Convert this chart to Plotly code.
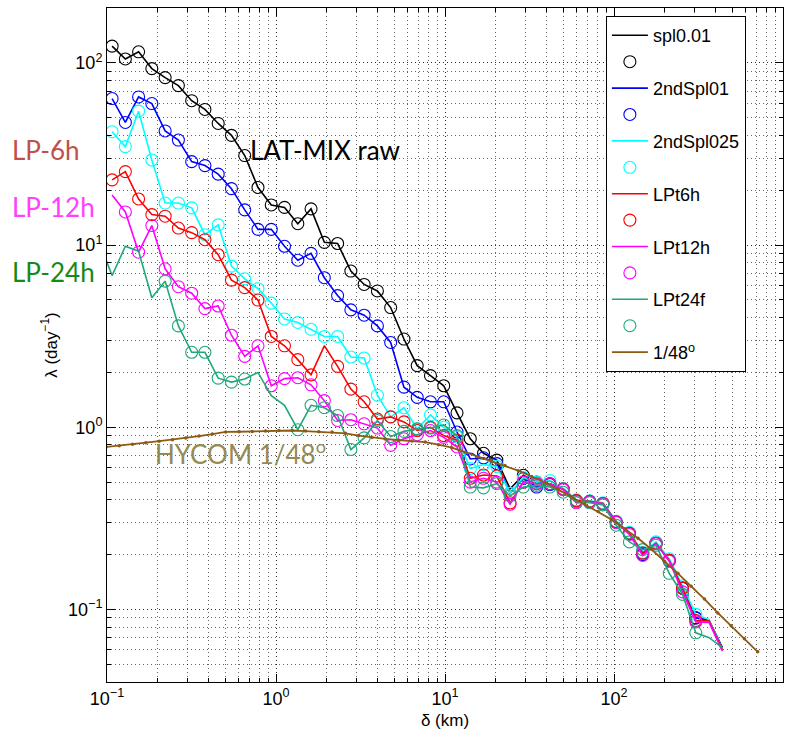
import plotly.graph_objects as go

# separation scale delta (km) shared by the LAT-MIX curves
delta_km = [0.0894, 0.1072, 0.1284, 0.1538, 0.1842, 0.2208, 0.2645, 0.3170, 0.3797, 0.4550,
            0.5451, 0.6531, 0.7824, 0.9376, 1.123, 1.346, 1.612, 1.932, 2.315, 2.773,
            3.323, 3.981, 4.770, 5.715, 6.848, 8.204, 9.829, 11.78, 14.11, 16.90,
            20.26, 24.27, 29.08, 34.83, 41.73, 50.00, 59.91, 71.78, 86.00, 103.0,
            123.4, 147.9, 177.2, 212.3, 254.4, 304.8, 365.2, 437.5]

spl001 = [None, 123.5, 105, 115, 93, 83, 75, 62, 55.5, 46.5, 40, 31, 20.7, 16.6, 16.1, 13.1,
          15.8, 10.35, 10.2, 7.2, 6.08, 5.6, 4.54, 3.05, 2.18, 1.92, 1.69, 1.2, 0.865, 0.72,
          0.66, 0.46, 0.545, 0.50, 0.49, 0.46, 0.396, 0.392, 0.382, 0.303, 0.262, 0.204,
          0.231, 0.186, 0.131, 0.090, 0.087, 0.0615]
spl2nd01 = [None, 63.7, 47.1, 65, 59.8, 42.3, 37.7, 28.7, 27.3, 24.5, 20.4, 15.6, 12.2, 12.2,
            9.85, 8.26, 9.0, 6.62, 5.28, 4.41, 4.12, 3.60, 2.92, 1.66, 1.46, 1.38, 1.38, 0.942,
            0.67, 0.68, 0.632, 0.434, 0.524, 0.47, 0.485, 0.458, 0.396, 0.392, 0.382, 0.303,
            0.262, 0.20, 0.231, 0.186, 0.131, 0.090, 0.087, 0.0615]
spl2nd025 = [None, 41.9, 34.7, 54.3, 29.3, 17.0, 17.0, 16.0, 11.4, 12.9, 7.66, 6.53, 5.76, 4.8,
             3.93, 3.76, 3.45, 3.15, 3.15, 2.43, 2.40, 1.50, 1.14, 1.28, 0.98, 1.17, 1.0, 0.885,
             0.593, 0.624, 0.61, 0.434, 0.53, 0.50, 0.51, 0.46, 0.40, 0.395, 0.385, 0.305,
             0.265, 0.206, 0.235, 0.19, 0.135, 0.094, 0.088, 0.0605]
lpt6h = [None, 22.8, 25.3, 17.9, 14.7, 14.4, 12.4, 11.7, 10.7, 8.85, 6.42, 5.84, 4.99, 3.15,
         2.80, 2.35, 1.94, 2.80, 2.16, 1.62, 1.38, 1.11, 1.14, 1.07, 0.96, 1.0, 0.90, 0.85,
         0.525, 0.547, 0.54, 0.385, 0.50, 0.49, 0.49, 0.458, 0.396, 0.392, 0.382, 0.303,
         0.262, 0.204, 0.231, 0.186, 0.131, 0.087, 0.0866, 0.060]
lpt12h = [None, 18.8, 15.2, 9.14, 12.8, 7.41, 5.91, 5.44, 4.48, 4.63, 3.20, 2.45, 2.80, 1.69,
          1.85, 1.87, 1.71, 1.40, 1.09, 1.10, 1.045, 0.99, 0.796, 0.865, 0.91, 0.96, 0.88, 0.78,
          0.50, 0.525, 0.50, 0.378, 0.50, 0.49, 0.49, 0.455, 0.385, 0.39, 0.38, 0.30,
          0.258, 0.198, 0.23, 0.184, 0.125, 0.0855, 0.085, 0.059]
lpt24f = [10.5, 6.8, 9.85, 9.25, 5.14, 6.34, 3.60, 2.58, 2.58, 1.86, 1.77, 1.84, 2.0, 1.49,
          1.32, 0.97, 1.32, 1.28, 1.16, 0.755, 0.875, 1.09, 0.89, 0.95, 0.98, 0.99, 1.03, 0.90,
          0.47, 0.465, 0.49, 0.42, 0.47, 0.48, 0.47, 0.44, 0.39, 0.385, 0.375, 0.29,
          0.235, 0.213, 0.225, 0.158, 0.121, 0.0745, 0.070, 0.0617]

# indices (into delta_km) of points drawn without a circle
no_circle = {
    "spl0.01": [31, 46, 47],
    "2ndSpl01": [46, 47],
    "2ndSpl025": [46, 47],
    "LPt6h": [17, 46, 47],
    "LPt12h": [1, 46, 47],
    "LPt24f": [0, 1, 2, 3, 4, 12, 13, 14, 46, 47],
}

# HYCOM 1/48 degree model curve
hycom_delta = [0.0987, 0.1182, 0.1417, 0.1699, 0.2036, 0.2440, 0.2925, 0.3506, 0.4202, 0.5037,
               0.6039, 0.7238, 0.8676, 1.040, 1.247, 1.494, 1.791, 2.147, 2.574, 3.085,
               3.698, 4.434, 5.314, 6.370, 7.636, 9.153, 10.97, 13.15, 15.76, 18.89,
               22.65, 27.15, 32.54, 39.00, 46.75, 56.04, 67.18, 80.52, 96.52, 115.7,
               138.7, 166.2, 199.3, 238.9, 286.3, 343.2, 411.4, 493.2, 591.1, 708.6]
hycom_lambda = [0.780, 0.792, 0.807, 0.823, 0.839, 0.855, 0.873, 0.895, 0.918, 0.943,
                0.945, 0.948, 0.954, 0.960, 0.960, 0.953, 0.944, 0.942, 0.926, 0.900,
                0.878, 0.863, 0.851, 0.841, 0.829, 0.802, 0.773, 0.730, 0.690, 0.652,
                0.616, 0.578, 0.537, 0.498, 0.456, 0.414, 0.379, 0.345, 0.312, 0.277,
                0.246, 0.214, 0.184, 0.158, 0.134, 0.114, 0.0957, 0.0813, 0.0690, 0.0586]

x_tickvals = [0.1, 1, 10, 100, 1000]
x_ticktext = ["10<sup>\u22121</sup>", "10<sup>0</sup>", "10<sup>1</sup>", "10<sup>2</sup>", "10<sup>3</sup>"]
y_tickvals = [0.1, 1, 10, 100]
y_ticktext = ["10<sup>\u22121</sup>", "10<sup>0</sup>", "10<sup>1</sup>", "10<sup>2</sup>"]

series = [
    ("spl0.01", spl001, "#000000"),
    ("2ndSpl01", spl2nd01, "#0000ff"),
    ("2ndSpl025", spl2nd025, "#00ffff"),
    ("LPt6h", lpt6h, "#ff0000"),
    ("LPt12h", lpt12h, "#ff00ff"),
    ("LPt24f", lpt24f, "#1fa87a"),
]

fig = go.Figure()
for name, vals, col in series:
    fig.add_trace(go.Scatter(x=delta_km, y=vals, mode="lines", name=name,
                             line=dict(color=col, width=1.6)))
    skip = set(no_circle[name])
    circ = [None if i in skip else v for i, v in enumerate(vals)]
    fig.add_trace(go.Scatter(x=delta_km, y=circ, mode="markers", name=" ",
                             marker=dict(symbol="circle-open", size=12, color=col,
                                         line=dict(width=1.1, color=col))))

fig.add_trace(go.Scatter(x=hycom_delta, y=hycom_lambda, mode="lines", name="1/48<sup>o</sup>",
                         line=dict(color="#8c5a14", width=1.8)))
fig.add_trace(go.Scatter(x=hycom_delta, y=hycom_lambda, mode="markers", showlegend=False,
                         marker=dict(symbol="circle", size=3.5, color="#8c5a14")))

grid = "rgba(0,0,0,0.6)"
grid_dash = "1px,3px"
axis_common = dict(type="log", showline=True, linecolor="black", linewidth=1, mirror="ticks",
                   ticks="inside", ticklen=8, tickcolor="black",
                   showgrid=True, gridcolor=grid, griddash=grid_dash, gridwidth=1,
                   zeroline=False,
                   tickfont=dict(family="Liberation Sans, Arial, sans-serif", size=18, color="black"),
                   minor=dict(dtick="D1", ticks="inside", ticklen=4, tickcolor="black",
                              showgrid=True, gridcolor=grid, griddash=grid_dash, gridwidth=1))

fig.update_xaxes(**axis_common, range=[-1, 3], tickvals=x_tickvals, ticktext=x_ticktext,
                 title=dict(text="\u03b4 (km)", standoff=6,
                            font=dict(family="Liberation Sans, Arial, sans-serif", size=17, color="black")))
fig.update_yaxes(**axis_common, range=[-1.39794, 2.30103], tickvals=y_tickvals, ticktext=y_ticktext,
                 title=dict(text="\u03bb (day<sup>\u22121</sup>)", standoff=6,
                            font=dict(family="Liberation Sans, Arial, sans-serif", size=17, color="black")))

ann_font = "Lato, Open Sans, sans-serif"
annotations = [
    dict(text="LAT-MIX raw", x=0.3225, y=0.789, xanchor="center", yanchor="middle",
         font=dict(family=ann_font, size=26, color="black")),
    dict(text="HYCOM 1/48<sup>o</sup>", x=0.198, y=0.341, xanchor="center", yanchor="middle",
         font=dict(family=ann_font, size=26, color="#948a54")),
    dict(text="LP-6h", x=-0.1435, y=0.789, xanchor="left", yanchor="middle",
         font=dict(family=ann_font, size=26, color="#c0504d")),
    dict(text="LP-12h", x=-0.1435, y=0.7047, xanchor="left", yanchor="middle",
         font=dict(family=ann_font, size=26, color="#ff40ff")),
    dict(text="LP-24h", x=-0.1435, y=0.6083, xanchor="left", yanchor="middle",
         font=dict(family=ann_font, size=26, color="#168a16")),
]
for a in annotations:
    a.update(xref="paper", yref="paper", showarrow=False)

fig.update_layout(
    width=793, height=739,
    margin=dict(l=107, r=10, t=8, b=57),
    plot_bgcolor="white", paper_bgcolor="white",
    annotations=annotations,
    legend=dict(x=0.738, y=0.988, xanchor="left", yanchor="top",
                bgcolor="white", bordercolor="black", borderwidth=1,
                font=dict(family="Liberation Sans, Arial, sans-serif", size=18, color="black"),
                itemwidth=36, tracegroupgap=0),
)

fig.write_html("out.html")
